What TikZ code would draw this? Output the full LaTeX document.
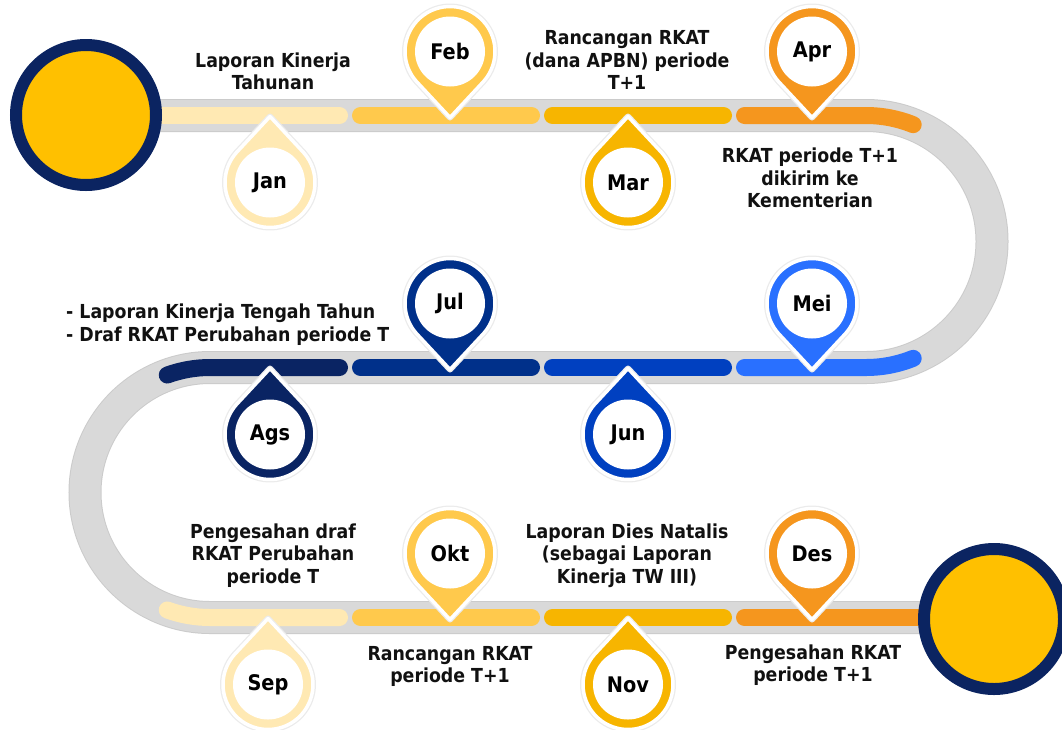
\documentclass[tikz,border=0pt]{standalone}
\usepackage{fontspec}
\newfontfamily\lblfont{DejaVu Sans Condensed}
\definecolor{cjan}{HTML}{FFE9B3}
\definecolor{cfeb}{HTML}{FFC94C}
\definecolor{cmar}{HTML}{F7B500}
\definecolor{capr}{HTML}{F5961E}
\definecolor{cmei}{HTML}{2970FF}
\definecolor{cjun}{HTML}{0040C0}
\definecolor{cjul}{HTML}{00308A}
\definecolor{cags}{HTML}{0A2463}
\definecolor{navy}{HTML}{0B2461}
\definecolor{bigyel}{HTML}{FFC000}
\definecolor{roadgray}{HTML}{D9D9D9}
\definecolor{roadedge}{HTML}{CBCBCB}
\definecolor{txtcol}{HTML}{111111}
\tikzset{
  roadband/.style={line width=31, draw=roadgray},
  roadborder/.style={line width=33, draw=roadedge},
  seg/.style={line width=17, line cap=round},
  txt/.style={inner sep=0pt, align=center, text=txtcol, font=\lblfont\bfseries\fontsize{19.3}{22.5}\selectfont},
  monthlbl/.style={inner sep=0pt, text=black, font=\lblfont\bfseries\fontsize{21.5}{24}\selectfont},
  bigcirc/.style={circle, draw=navy, fill=bigyel, line width=12, minimum size=140, inner sep=0pt},
}
% #1 name, #2 x, #3 row y, #4 direction (1 above, -1 below), #5 colour, #6 label
\newcommand\mpin[6]{%
  \begin{scope}[shift={(#2,{#3-#4*(65.5-1.5*#4)})}, yscale=#4]
    \path[draw=black!8, line width=6, line join=round]
      (0,66) -- (41.81:45) arc[start angle=41.81, end angle=-221.81, radius=45] -- cycle;
    \path[fill=#5, draw=white, line width=3.5, line join=round]
      (0,66) -- (41.81:45) arc[start angle=41.81, end angle=-221.81, radius=45] -- cycle;
    \path[fill=white] (0,0) circle[radius=35];
  \end{scope}
  \node[monthlbl] (#1) at (#2,{#3-#4*(65.5-1.5*#4)}) {#6};
}
\begin{document}
\begin{tikzpicture}[x=1pt,y=-1pt]
\useasboundingbox (0,0) rectangle (1062,729);
% road
\draw[roadborder] (150,115.5) -- (866,115.5) arc[start angle=-90,end angle=90,radius=126]
  -- (210,367.5) arc[start angle=-90,end angle=-270,radius=125] -- (994,617.5);
\draw[roadband] (150,115.5) -- (866,115.5) arc[start angle=-90,end angle=90,radius=126]
  -- (210,367.5) arc[start angle=-90,end angle=-270,radius=125] -- (994,617.5);
% segments top row
\draw[seg, cjan] (160,115.5) -- (339.5,115.5);
\draw[seg, cfeb] (360.5,115.5) -- (531.5,115.5);
\draw[seg, cmar] (552.5,115.5) -- (723.5,115.5);
\draw[seg, capr] (744.5,115.5) -- (866,115.5) arc[start angle=-90,end angle=-68,radius=126];
% middle row
\draw[seg, cags] (339.5,367.5) -- (210,367.5) arc[start angle=-90,end angle=-110,radius=125];
\draw[seg, cjul] (360.5,367.5) -- (531.5,367.5);
\draw[seg, cjun] (552.5,367.5) -- (723.5,367.5);
\draw[seg, cmei] (744.5,367.5) -- (866,367.5) arc[start angle=90,end angle=68,radius=126];
% bottom row
\draw[seg, cjan] (339.5,617.5) -- (210,617.5) arc[start angle=90,end angle=110,radius=125];
\draw[seg, cfeb] (360.5,617.5) -- (531.5,617.5);
\draw[seg, cmar] (552.5,617.5) -- (723.5,617.5);
\draw[seg, capr] (744.5,617.5) -- (960,617.5);
% big circles
\node[bigcirc] (start) at (86,115) {};
\node[bigcirc] (finish) at (994,619) {};
% pins
\mpin{jan}{270}{115.5}{-1}{cjan}{Jan}
\mpin{feb}{450}{115.5}{1}{cfeb}{Feb}
\mpin{mar}{628}{115.5}{-1}{cmar}{Mar}
\mpin{apr}{812}{115.5}{1}{capr}{Apr}
\mpin{ags}{270}{367.5}{-1}{cags}{Ags}
\mpin{jul}{450}{367.5}{1}{cjul}{Jul}
\mpin{jun}{628}{367.5}{-1}{cjun}{Jun}
\mpin{mei}{812}{367.5}{1}{cmei}{Mei}
\mpin{sep}{268}{617.5}{-1}{cjan}{Sep}
\mpin{okt}{450}{617.5}{1}{cfeb}{Okt}
\mpin{nov}{628}{617.5}{-1}{cmar}{Nov}
\mpin{des}{812}{617.5}{1}{capr}{Des}
% texts
\node[txt] (t1) at (273,71.5) {Laporan Kinerja\\Tahunan};
\node[txt] (t2) at (627,60) {Rancangan RKAT\\(dana APBN) periode\\T+1};
\node[txt] (t3) at (810,178) {RKAT periode T+1\\dikirim ke\\Kementerian};
\node[txt, align=left, anchor=west] (t4) at (66,324.5) {- Laporan Kinerja Tengah Tahun\\- Draf RKAT Perubahan periode T};
\node[txt] (t5) at (273,555.5) {Pengesahan draf\\RKAT Perubahan\\periode T};
\node[txt] (t6) at (627,555.5) {Laporan Dies Natalis\\(sebagai Laporan\\Kinerja TW III)};
\node[txt] (t7) at (450,666.5) {Rancangan RKAT\\periode T+1};
\node[txt] (t8) at (813,665) {Pengesahan RKAT\\periode T+1};
\end{tikzpicture}
\end{document}
